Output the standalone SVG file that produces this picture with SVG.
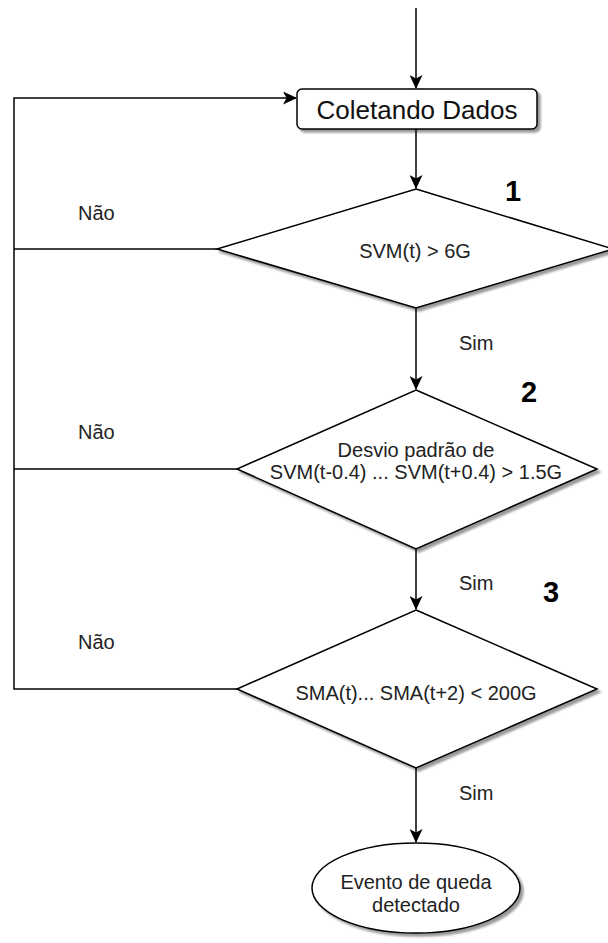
<svg xmlns="http://www.w3.org/2000/svg" width="608" height="943" viewBox="0 0 608 943">
<style>
.shape{fill:#fff;stroke:#000;stroke-width:1.5;filter:url(#sh)}
.conn{fill:none;stroke:#000;stroke-width:1.5}
.t{font-family:"Liberation Sans",Arial,sans-serif;font-size:20px;fill:#222;text-anchor:middle}
.lbl{font-family:"Liberation Sans",Arial,sans-serif;font-size:20px;fill:#222}
.num{font-family:"Liberation Sans",Arial,sans-serif;font-size:29px;font-weight:bold;fill:#000;text-anchor:middle}
</style>
<defs>
<filter id="sh" x="-10%" y="-10%" width="130%" height="140%">
<feGaussianBlur in="SourceAlpha" stdDeviation="1.2" result="b"/>
<feOffset in="b" dx="3" dy="3" result="o"/>
<feComponentTransfer in="o" result="s"><feFuncA type="linear" slope="0.4"/></feComponentTransfer>
<feMerge><feMergeNode in="s"/><feMergeNode in="SourceGraphic"/></feMerge>
</filter>
<marker id="arr" markerUnits="userSpaceOnUse" markerWidth="15" markerHeight="13" refX="13" refY="6.5" orient="auto">
<path d="M0,0 L14,6.5 L0,13 L3.5,6.5 z" fill="#000"/>
</marker>
</defs>
<rect width="608" height="943" fill="#fff"/>
<g id="connectors">
<path class="conn" d="M416,8 L416,88" marker-end="url(#arr)"/>
<path class="conn" d="M416,129 L416,188" marker-end="url(#arr)"/>
<path class="conn" d="M416,308 L416,389" marker-end="url(#arr)"/>
<path class="conn" d="M416,549 L416,609" marker-end="url(#arr)"/>
<path class="conn" d="M416,768 L416,842" marker-end="url(#arr)"/>
<path class="conn" d="M217,249 L14,249"/>
<path class="conn" d="M237,469 L14,469"/>
<path class="conn" d="M237,689 L14,689 L14,98 L296,98" marker-end="url(#arr)"/>
</g>
<g id="n-coletando">
<rect class="shape" x="297" y="89" width="240" height="40" rx="5"/>
<text class="t" x="417" y="119" style="font-size:26px;fill:#111">Coletando Dados</text>
</g>
<g id="n-d1">
<polygon class="shape" points="416,189 613,249 416,308 217,249"/>
<text class="t" x="415" y="258">SVM(t) &gt; 6G</text>
</g>
<g id="n-d2">
<polygon class="shape" points="416,390 597,469 416,549 237,469"/>
<text class="t" x="416" y="457">Desvio padrão de</text>
<text class="t" x="416" y="479">SVM(t-0.4) ... SVM(t+0.4) &gt; 1.5G</text>
</g>
<g id="n-d3">
<polygon class="shape" points="416,610 597,689 416,768 237,689"/>
<text class="t" x="416" y="700">SMA(t)... SMA(t+2) &lt; 200G</text>
</g>
<g id="n-end">
<ellipse class="shape" cx="416" cy="888" rx="104" ry="45"/>
<text class="t" x="416" y="889">Evento de queda</text>
<text class="t" x="416" y="912">detectado</text>
</g>
<g id="labels">
<text class="lbl" x="78" y="220">Não</text>
<text class="lbl" x="78" y="439">Não</text>
<text class="lbl" x="78" y="649">Não</text>
<text class="lbl" x="459" y="350">Sim</text>
<text class="lbl" x="459" y="590">Sim</text>
<text class="lbl" x="459" y="800">Sim</text>
<text class="num" x="513" y="201">1</text>
<text class="num" x="529" y="402">2</text>
<text class="num" x="551" y="602">3</text>
</g>
</svg>
